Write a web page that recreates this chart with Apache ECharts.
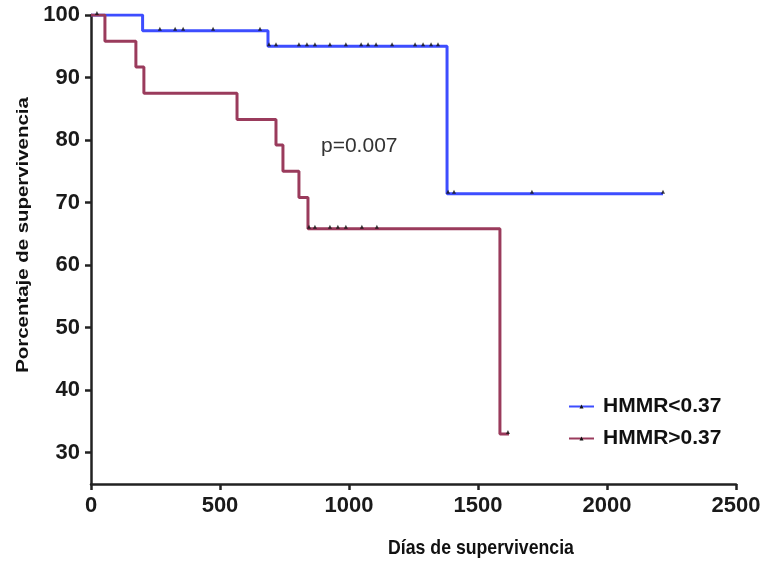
<!DOCTYPE html>
<html>
<head>
<meta charset="utf-8">
<script src="https://cdn.jsdelivr.net/npm/echarts@6/dist/echarts.min.js"></script>
<style>html,body{margin:0;padding:0;background:#fff}#c{width:768px;height:561px}</style>
</head>
<body>
<div id="c"></div>
<script>
// Group names
var groupNames = ['HMMR<0.37', 'HMMR>0.37'];
// Kaplan-Meier steps: event days and survival (%) after each event
var lowTimes = [0, 200, 686, 1380];
var lowSurv = [100, 97.5, 95.0, 71.4];
var lowEnd = 2217;
var lowCensor = [23, 267, 326, 357, 473, 655, 690, 717, 806, 837, 868, 926, 988, 1047, 1074, 1105, 1167, 1256, 1287, 1318, 1345, 1384, 1407, 1709, 2217];

var highTimes = [0, 54, 174, 205, 566, 717, 744, 806, 841, 1585];
var highSurv = [100, 95.8, 91.7, 87.5, 83.3, 79.2, 75.0, 70.8, 65.8, 33.0];
var highEnd = 1620;
var highCensor = [845, 868, 926, 957, 988, 1050, 1108, 1616];

var xTicks = [0, 500, 1000, 1500, 2000, 2500];
var yTicks = [30, 40, 50, 60, 70, 80, 90, 100];
var pText = 'p=0.007';
var xTitle = 'Días de supervivencia';
var yTitle = 'Porcentaje de supervivencia';

function stepData(times, surv, end) {
  var d = [];
  for (var i = 0; i < times.length; i++) d.push([times[i], surv[i]]);
  d.push([end, surv[surv.length - 1]]);
  return d;
}
function survAt(times, surv, t) {
  var s = surv[0];
  for (var i = 0; i < times.length; i++) if (times[i] <= t) s = surv[i];
  return s;
}
function censorData(times, surv, cens) {
  return cens.map(function (t) { return [t, survAt(times, surv, t)]; });
}

var blue = '#3d4dff', red = '#9a3b5c';
var font = 'Liberation Sans';
var chart = echarts.init(document.getElementById('c'));
chart.setOption({
  animation: false,
  backgroundColor: '#fff',
  grid: { left: 91, right: 32, top: 15, bottom: 77 },
  xAxis: {
    type: 'value', min: 0, max: 2500, interval: 500,
    axisLine: { lineStyle: { color: '#222', width: 2.5 } },
    axisTick: { length: 6, lineStyle: { color: '#222', width: 2.5 } },
    splitLine: { show: false },
    axisLabel: { color: '#1a1a1a', fontWeight: 'bold', fontSize: 22, fontFamily: font, margin: 11, customValues: xTicks,
      formatter: function (v) { return String(v); } }
  },
  yAxis: {
    type: 'value', min: 25, max: 100,
    axisLine: { show: true, lineStyle: { color: '#222', width: 2.5 } },
    axisTick: { show: true, length: 6, lineStyle: { color: '#222', width: 2.5 }, customValues: yTicks },
    splitLine: { show: false },
    axisLabel: { color: '#1a1a1a', fontWeight: 'bold', fontSize: 22, fontFamily: font, margin: 11, customValues: yTicks,
      formatter: function (v) { return String(v); } }
  },
  legend: {
    left: 563, top: 391, orient: 'vertical', itemGap: 11, itemWidth: 25, itemHeight: 5,
    textStyle: { color: '#111', fontWeight: 'bold', fontSize: 21, fontFamily: font, padding: [0, 0, 0, 4] },
    data: groupNames
  },
  graphic: [
    { type: 'text', x: 321, y: 146, style: { text: pText, fill: '#333', fontSize: 21, fontFamily: font, verticalAlign: 'middle' } },
    { type: 'text', x: 481, y: 548, scaleY: 1.15, style: { text: xTitle, fill: '#111', fontSize: 17.7, fontWeight: 'bold', fontFamily: font, align: 'center', verticalAlign: 'middle' } },
    { type: 'text', x: 23, y: 235, rotation: Math.PI / 2, scaleX: 1.2, style: { text: yTitle, fill: '#111', fontSize: 17, fontWeight: 'bold', fontFamily: font, align: 'center', verticalAlign: 'middle' } }
  ],
  series: [
    { name: groupNames[0], type: 'line', step: 'end', data: stepData(lowTimes, lowSurv, lowEnd),
      showSymbol: false, symbol: 'triangle', symbolSize: 5, itemStyle: { color: '#111' },
      lineStyle: { color: blue, width: 3 }, z: 2 },
    { name: groupNames[1], type: 'line', step: 'end', data: stepData(highTimes, highSurv, highEnd),
      showSymbol: false, symbol: 'triangle', symbolSize: 5, itemStyle: { color: '#111' },
      lineStyle: { color: red, width: 3 }, z: 2 },
    { type: 'scatter', data: censorData(lowTimes, lowSurv, lowCensor), symbol: 'triangle', symbolSize: [4, 4], symbolOffset: [0, -2], itemStyle: { color: '#111' }, z: 3 },
    { type: 'scatter', data: censorData(highTimes, highSurv, highCensor), symbol: 'triangle', symbolSize: [4, 4], symbolOffset: [0, -2], itemStyle: { color: '#111' }, z: 3 }
  ]
});
</script>
</body>
</html>
